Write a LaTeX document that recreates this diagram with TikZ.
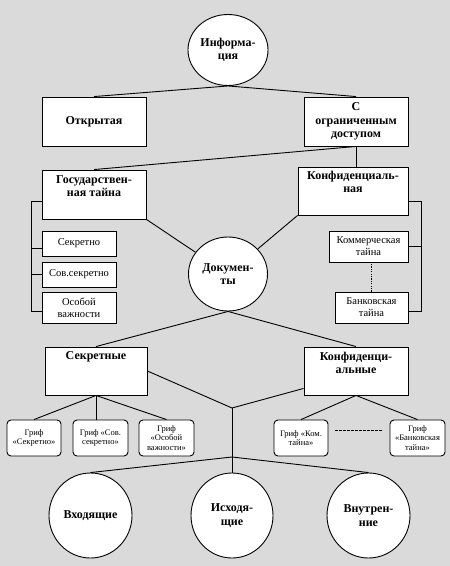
\documentclass[tikz,border=0pt]{standalone}
\usepackage{fontspec}
\setmainfont{Liberation Serif}
\usetikzlibrary{shapes.geometric,calc}
\definecolor{bg}{RGB}{218,218,218}
\begin{document}
\begin{tikzpicture}[x=1pt,y=-1pt,
  every path/.style={line width=0.9pt},
  box/.style={draw, fill=white, inner sep=0pt, align=center},
  circ/.style={draw, fill=white, ellipse, inner sep=0pt, align=center},
  grif/.style={draw, fill=white, rounded corners=4pt, inner sep=0pt, align=center,
    font=\fontsize{8.5}{9.5}\selectfont},
  big/.style={font=\bfseries\fontsize{12}{13.5}\selectfont},
  small/.style={font=\fontsize{10.5}{12}\selectfont},
  toptxt/.style={anchor=north, inner sep=0pt, align=center, font=\bfseries\fontsize{12}{13}\selectfont}]
\useasboundingbox[fill=bg] (0,0) rectangle (450,566);

% top level
\node[circ, big, minimum width=80pt, minimum height=71pt] (info) at (228,50) {Информа-\\ция};
\node[box, big, minimum width=104pt, minimum height=49pt] (otkr) at (94,121.5) {Открытая};
\node[box, big, minimum width=104pt, minimum height=49pt] (ogr) at (356,121.5) {С\\ограниченным\\доступом};

% second level
\node[box, minimum width=104pt, minimum height=49pt] (gos) at (94,194.5) {};
\node[toptxt] (gostxt) at ([yshift=-6pt]gos.north) {Государствен-\\ная тайна};
\node[box, minimum width=110pt, minimum height=48pt] (konf) at (353,191) {};
\node[toptxt] (konftxt) at ([yshift=-4pt]konf.north) {Конфиденциаль-\\ная};

\node[box, small, minimum width=74pt, minimum height=25pt] (sec) at (79,243.5) {Секретно};
\node[box, small, minimum width=74pt, minimum height=25pt] (sov) at (79,274.5) {Сов.секретно};
\node[box, small, minimum width=74pt, minimum height=31pt] (osob) at (79,307.5) {Особой\\важности};
\node[box, small, minimum width=79pt, minimum height=31pt] (kom) at (368.5,246.5) {Коммерческая\\тайна};
\node[box, small, minimum width=73pt, minimum height=31pt] (bank) at (371.5,307.5) {Банковская\\тайна};

\node[circ, big, minimum width=79pt, minimum height=74pt] (dok) at (228,274) {Докумен-\\ты};

% third level
\node[box, minimum width=102pt, minimum height=48pt] (sekr) at (96,371) {};
\node[toptxt] (sekrtxt) at ([yshift=-5pt]sekr.north) {Секретные};
\node[box, big, minimum width=104pt, minimum height=48pt] (konfd) at (356,371) {Конфиденци-\\альные\\[3pt]};

\node[grif, minimum width=54pt, minimum height=36pt] (g1) at (34,438) {Гриф\\«Секретно»};
\node[grif, minimum width=55pt, minimum height=36pt] (g2) at (100.5,438) {Гриф «Сов.\\секретно»};
\node[grif, minimum width=55pt, minimum height=36pt] (g3) at (166.5,438) {Гриф\\«Особой\\важности»};
\node[grif, minimum width=54pt, minimum height=36pt] (g4) at (301,438) {Гриф «Ком.\\тайна»};
\node[grif, minimum width=55pt, minimum height=36pt] (g5) at (417.5,438) {Гриф\\«Банковская\\тайна»};

\node[circ, big, minimum width=83pt, minimum height=85pt] (vh) at (90.5,515.5) {Входящие};
\node[circ, big, minimum width=82pt, minimum height=85pt] (ish) at (232,515.5) {Исходя-\\щие};
\node[circ, big, minimum width=83pt, minimum height=85pt] (vn) at (368.5,515.5) {Внутрен-\\ние};

% coordinates
\coordinate (lb1) at (31,201);
\coordinate (lb2) at (31,311);
\coordinate (rb1) at (421,201);
\coordinate (rb2) at (421,311);
\coordinate (j1) at (232,408);
\coordinate (j2) at (232,457);
\coordinate (d1) at (335,430);
\coordinate (d2) at (383,430);

% connectors
\draw (info.south) -- (otkr.north);
\draw (info.south) -- (ogr.north);
\draw (ogr.south) -- (gos.north);
\draw (ogr.south) -- (ogr.south |- konf.north);

\draw (lb1 -| gos.west) -- (lb1) -- (lb2) -- (lb2 -| osob.west);
\draw ([yshift=-5pt]sec.west) -- ([yshift=-5pt]sec.west -| lb1);
\draw (sov.west) -- (sov.west -| lb1);
\draw (rb1 -| konf.east) -- (rb1) -- (rb2) -- (rb2 -| bank.east);
\draw (kom.east) -- (kom.east -| rb1);
\draw[dash pattern=on 1.2pt off 1.2pt] (bank.north) -- (bank.north |- kom.south);

\draw (gos.south east) -- (dok);
\draw (konf.south west) -- (dok);
\draw (dok.south) -- (sekr.north);
\draw (dok.south) -- (konfd.north);

\draw (sekr.east) -- (j1);
\draw ([yshift=7pt]konfd.south west) -- (j1);
\draw (j1) -- (j2);
\draw (j2) -- (vh.north);
\draw (j2) -- (ish.north);
\draw (j2) -- (vn.north);

\draw (sekr.south) -- (g1.north);
\draw (sekr.south) -- (sekr.south |- g2.north);
\draw (sekr.south) -- (g3.north);
\draw (konfd.south) -- (g4.north);
\draw (konfd.south) -- (g5.north);
\draw[dash pattern=on 2.5pt off 1.5pt] (d1) -- (d2);
\end{tikzpicture}
\end{document}
